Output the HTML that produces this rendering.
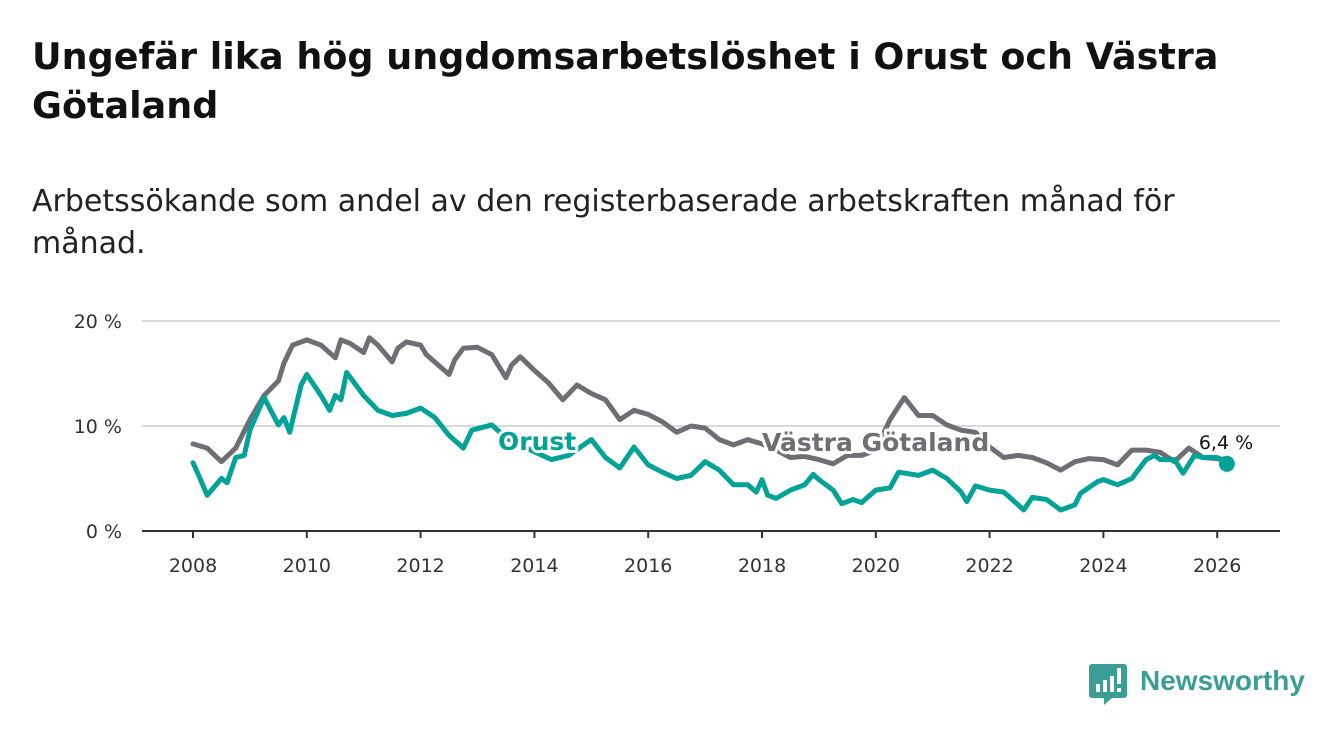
<!DOCTYPE html>
<html><head><meta charset="utf-8">
<style>
body{margin:0;background:#fff;font-family:"DejaVu Sans","Liberation Sans",sans-serif;}
#wrap{position:relative;width:1340px;height:734px;overflow:hidden;}
h1{position:absolute;left:32px;top:32px;margin:0;font-size:36.5px;line-height:49px;font-weight:bold;color:#111;width:1240px;}
.sub{position:absolute;left:32px;top:181px;margin:0;font-size:30px;line-height:42px;color:#222;width:1220px;}
svg{position:absolute;left:0;top:0;}
</style></head><body>
<div id="wrap">
<h1>Ungefär lika hög ungdomsarbetslöshet i Orust och Västra Götaland</h1>
<p class="sub">Arbetssökande som andel av den registerbaserade arbetskraften månad för månad.</p>
<svg id="chart" width="1340" height="734"></svg>
</div>
<script>
const yTicks=[0,10,20];
const yTickLabels=["0 %","10 %","20 %"];
const xTicks=[2008,2010,2012,2014,2016,2018,2020,2022,2024,2026];
const vgYears=[2008,2008.25,2008.5,2008.75,2009,2009.25,2009.5,2009.6,2009.75,2010,2010.25,2010.5,2010.6,2010.75,2011,2011.1,2011.25,2011.5,2011.6,2011.75,2012,2012.1,2012.5,2012.6,2012.75,2013,2013.25,2013.5,2013.6,2013.75,2014,2014.25,2014.5,2014.75,2015,2015.25,2015.5,2015.75,2016,2016.25,2016.5,2016.75,2017,2017.25,2017.5,2017.75,2018,2018.25,2018.5,2018.75,2019,2019.25,2019.5,2019.75,2020,2020.25,2020.5,2020.75,2021,2021.25,2021.5,2021.75,2022,2022.25,2022.5,2022.75,2023,2023.25,2023.5,2023.75,2024,2024.25,2024.5,2024.75,2025,2025.25,2025.5,2025.75,2026,2026.17];
const vgValues=[8.3,7.9,6.6,7.9,10.6,12.9,14.3,16,17.7,18.2,17.7,16.5,18.2,17.9,17,18.4,17.7,16.1,17.4,18,17.7,16.8,14.9,16.3,17.4,17.5,16.8,14.6,15.8,16.6,15.3,14.1,12.5,13.9,13.1,12.5,10.6,11.5,11.1,10.4,9.4,10,9.8,8.7,8.2,8.7,8.3,7.7,7,7.1,6.8,6.4,7.2,7.2,7.7,10.6,12.7,11,11,10.1,9.6,9.4,8,7,7.2,7,6.5,5.8,6.6,6.9,6.8,6.3,7.7,7.7,7.5,6.6,7.9,7,6.9,6.8];
const orYears=[2008,2008.1,2008.25,2008.5,2008.6,2008.75,2008.9,2009,2009.25,2009.5,2009.6,2009.7,2009.9,2010,2010.25,2010.4,2010.5,2010.6,2010.7,2011,2011.25,2011.5,2011.75,2012,2012.25,2012.5,2012.75,2012.9,2013.25,2013.5,2013.9,2014.3,2014.6,2015,2015.25,2015.5,2015.75,2016,2016.25,2016.5,2016.75,2017,2017.25,2017.5,2017.75,2017.9,2018,2018.1,2018.25,2018.5,2018.75,2018.9,2019,2019.25,2019.4,2019.6,2019.75,2020,2020.25,2020.4,2020.75,2021,2021.25,2021.5,2021.6,2021.75,2022,2022.25,2022.5,2022.6,2022.75,2023,2023.25,2023.5,2023.6,2023.9,2024,2024.25,2024.5,2024.75,2024.9,2025,2025.25,2025.4,2025.6,2025.75,2026,2026.17];
const orValues=[6.5,5.3,3.4,5,4.6,7,7.2,9.6,12.7,10.1,10.8,9.4,13.9,14.9,12.9,11.5,12.9,12.5,15.1,12.9,11.5,11,11.2,11.7,10.8,9.1,7.9,9.6,10.1,8.9,7.8,6.8,7.2,8.7,7,6,8,6.3,5.6,5,5.3,6.6,5.8,4.4,4.4,3.7,4.9,3.4,3.1,3.9,4.4,5.4,4.9,3.9,2.6,3,2.7,3.9,4.1,5.6,5.3,5.8,5,3.7,2.8,4.3,3.9,3.7,2.5,2,3.2,3,2,2.5,3.6,4.7,4.9,4.4,5,6.8,7.2,6.8,6.8,5.5,7.2,7,7,6.4];

const NS="http://www.w3.org/2000/svg";
const svg=document.getElementById('chart');
const x0=142,x1=1280,yBase=531;
function sx(yr){return 193+(yr-2008)*56.9;}
function sy(v){return yBase-v*10.5;}
function mk(tag,attrs,parent){const e=document.createElementNS(NS,tag);for(const k in attrs)e.setAttribute(k,attrs[k]);(parent||svg).appendChild(e);return e;}

yTicks.forEach((t,i)=>{
  if(t>0){const g=mk('line',{x1:x0,x2:x1,y1:sy(t),y2:sy(t),stroke:'#d9d9d9','stroke-width':2});
  
  }
  const tx=mk('text',{x:122,y:sy(t)+7,'text-anchor':'end','font-size':19,fill:'#333'});
  tx.textContent=yTickLabels[i];
  
  
});
const ax=mk('line',{x1:x0,x2:x1,y1:yBase,y2:yBase,stroke:'#333','stroke-width':2});


xTicks.forEach(t=>{
  const tk=mk('line',{x1:sx(t),x2:sx(t),y1:yBase,y2:yBase+7,stroke:'#333','stroke-width':2});
  
  
  const tx=mk('text',{x:sx(t),y:572,'text-anchor':'middle','font-size':19,fill:'#333'});
  tx.textContent=t;
  
  
});
function line(ys,vs,color,name){
  const d=ys.map((y,i)=>(i?'L':'M')+sx(y).toFixed(1)+' '+sy(vs[i]).toFixed(1)).join(' ');
  const p=mk('path',{d:d,fill:'none',stroke:color,'stroke-width':5,'stroke-linejoin':'round','stroke-linecap':'round'});
  
  
}
line(vgYears,vgValues,'#6f6e74','line-vastra-gotaland');
line(orYears,orValues,'#00a395','line-orust');
function lbl(x,y,txt,color,name,anchor,size,weight){
  const t=mk('text',{x:x,y:y,'text-anchor':anchor,'font-size':size,'font-weight':weight,fill:color,stroke:'#fff','stroke-width':6,'paint-order':'stroke','stroke-linejoin':'round'});
  t.textContent=txt;
  
  
}
lbl(498,450,'Orust','#00a395','label-orust','start',25,'bold');
lbl(762,451,'Västra Götaland','#6f6e74','label-vastra-gotaland','start',25,'bold');
const last=orValues.length-1;
const dot=mk('circle',{cx:sx(orYears[last]),cy:sy(orValues[last]),r:8,fill:'#00a395'});


lbl(1226,449,'6,4 %','#111','last-value-label','middle',19,'normal');

const lg=mk('g',{});


mk('path',{d:'M1092 664 h32 a3 3 0 0 1 3 3 v28 a3 3 0 0 1 -3 3 h-12 l-8 7 v-7 h-12 a3 3 0 0 1 -3 -3 v-28 a3 3 0 0 1 3 -3z',fill:'#3a9e95'},lg);
mk('rect',{x:1096,y:684,width:4,height:8,fill:'#fff'},lg);
mk('rect',{x:1103,y:680,width:4,height:12,fill:'#fff'},lg);
mk('rect',{x:1110,y:676,width:4,height:16,fill:'#fff'},lg);
mk('rect',{x:1117,y:668,width:4,height:16,fill:'#fff'},lg);
mk('rect',{x:1117,y:688,width:4,height:4,fill:'#fff'},lg);
const lt=mk('text',{x:1140,y:690,'font-size':28,'font-weight':'bold',fill:'#3a9e95','font-family':'Liberation Sans, sans-serif'},lg);
lt.textContent='Newsworthy';
</script>
</body></html>
